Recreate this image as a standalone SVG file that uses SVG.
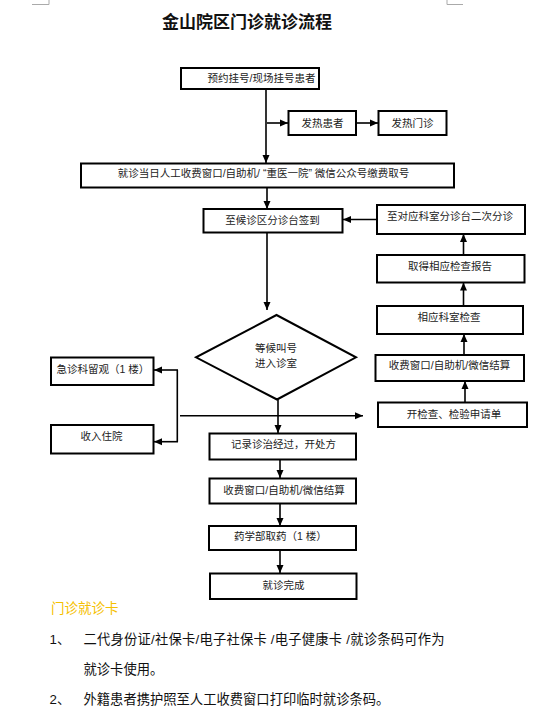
<svg xmlns="http://www.w3.org/2000/svg" width="546" height="720" viewBox="0 0 546 720">
<defs>
<marker id="ah" viewBox="0 0 8 8" refX="8" refY="4" markerWidth="8" markerHeight="8" markerUnits="userSpaceOnUse" orient="auto">
<path d="M0,0.5 L8,4 L0,7.5 Z" fill="#000"/>
</marker>
<style>
.box{fill:#fff;stroke:#000;stroke-width:2}
.t{font-family:"Liberation Sans","Noto Sans CJK SC",sans-serif;font-size:10.5px;fill:#222;text-anchor:middle}
.c{fill:none;stroke:#000;stroke-width:1.6}
.a{marker-end:url(#ah)}
.note{font-family:"Liberation Sans","Noto Sans CJK SC",sans-serif;font-size:13.3px;fill:#111}
</style>
</defs>
<rect width="546" height="720" fill="#fff"/>
<g id="cornermarks" fill="none" stroke="#aaa" stroke-width="1">
<path d="M49,0 V4.5 H32"/>
<path d="M447,0 V4.5 H463"/>
</g>
<text id="title" x="247" y="27.5" font-family="'Liberation Serif','Noto Sans CJK SC',serif" font-weight="bold" font-size="17" text-anchor="middle" fill="#111">金山院区门诊就诊流程</text>

<g id="connectors">
<path class="c a" d="M266,89 V163"/>
<path class="c a" d="M267,123 H288"/>
<path class="c a" d="M356,123 H378"/>
<path class="c a" d="M267,188 V209"/>
<path class="c a" d="M376.5,219.5 H343"/>
<path class="c a" d="M463.5,255 V234"/>
<path class="c a" d="M463.5,306 V282.5"/>
<path class="c a" d="M464,355 V334"/>
<path class="c a" d="M465,402.5 V381"/>
<path class="c a" d="M267,232.5 V310"/>
<path class="c a" d="M278,399.5 V433"/>
<path class="c a" d="M180,415.7 H363"/>
<path class="c" d="M177.3,370 V441.7"/>
<path class="c a" d="M178,370 H154"/>
<path class="c a" d="M178,441.7 H154"/>
<path class="c a" d="M280,459.5 V478"/>
<path class="c a" d="M280,503.5 V526"/>
<path class="c a" d="M280,550 V573"/>
</g>

<g id="n_register"><rect class="box" x="181" y="68" width="138" height="21"/><text class="t" x="261.5" y="81.5">预约挂号/现场挂号患者</text></g>
<g id="n_fever"><rect class="box" x="288.5" y="111" width="67.5" height="24"/><text class="t" x="322.5" y="126.5">发热患者</text></g>
<g id="n_fever_clinic"><rect class="box" x="378.5" y="111" width="68" height="24"/><text class="t" x="412.5" y="126.5">发热门诊</text></g>
<g id="n_pay_number"><rect class="box" x="81" y="163.5" width="373" height="24"/><text class="t" x="263.5" y="176.5">就诊当日人工收费窗口/自助机/ “重医一院” 微信公众号缴费取号</text></g>
<g id="n_checkin"><rect class="box" x="203.5" y="209" width="139" height="23.5"/><text class="t" x="272.5" y="223.5">至候诊区分诊台签到</text></g>
<g id="n_second_triage"><rect class="box" x="377" y="205" width="148" height="29"/><text class="t" x="450" y="220">至对应科室分诊台二次分诊</text></g>
<g id="n_report"><rect class="box" x="377" y="255" width="147.5" height="27.5"/><text class="t" x="450" y="270">取得相应检查报告</text></g>
<g id="n_exam"><rect class="box" x="377" y="306" width="146" height="28"/><text class="t" x="449" y="321">相应科室检查</text></g>
<g id="n_wait"><path class="box" d="M276.5,315 L356,357.3 L277,399.5 L196,357.3 Z"/><text class="t" x="276" y="351.5">等候叫号</text><text class="t" x="276" y="366.5">进入诊室</text></g>
<g id="n_pay_exam"><rect class="box" x="375.5" y="355" width="148.5" height="26"/><text class="t" x="449.5" y="368.5">收费窗口/自助机/微信结算</text></g>
<g id="n_emergency"><rect class="box" x="51" y="357.5" width="102.5" height="27.5"/><text class="t" x="103" y="373">急诊科留观（1 楼）</text></g>
<g id="n_order_exam"><rect class="box" x="378" y="402.5" width="149" height="24.5"/><text class="t" x="454" y="417.5">开检查、检验申请单</text></g>
<g id="n_admit"><rect class="box" x="51" y="425" width="102.5" height="28.5"/><text class="t" x="101.5" y="439.5">收入住院</text></g>
<g id="n_prescribe"><rect class="box" x="209.5" y="433.5" width="146.5" height="26"/><text class="t" x="283.5" y="447.5">记录诊治经过，开处方</text></g>
<g id="n_pay_rx"><rect class="box" x="209.5" y="478.5" width="146.5" height="25"/><text class="t" x="284" y="493.5">收费窗口/自助机/微信结算</text></g>
<g id="n_pharmacy"><rect class="box" x="209" y="526" width="147" height="24"/><text class="t" x="280.5" y="540">药学部取药（1 楼）</text></g>
<g id="n_done"><rect class="box" x="210" y="573.5" width="146.5" height="25.5"/><text class="t" x="283.5" y="589">就诊完成</text></g>

<g id="notes">
<text x="51" y="612.5" font-family="'Liberation Sans','Noto Sans CJK SC',sans-serif" font-size="13.5" fill="#f5c000">门诊就诊卡</text>
<text class="note" x="49.5" y="643.5">1、</text>
<text class="note" x="83.5" y="643.5" textLength="361" lengthAdjust="spacing">二代身份证/社保卡/电子社保卡 /电子健康卡 /就诊条码可作为</text>
<text class="note" x="83.5" y="673.5">就诊卡使用。</text>
<text class="note" x="49.5" y="703.5">2、</text>
<text class="note" x="83.5" y="703.5">外籍患者携护照至人工收费窗口打印临时就诊条码。</text>
</g>
</svg>
